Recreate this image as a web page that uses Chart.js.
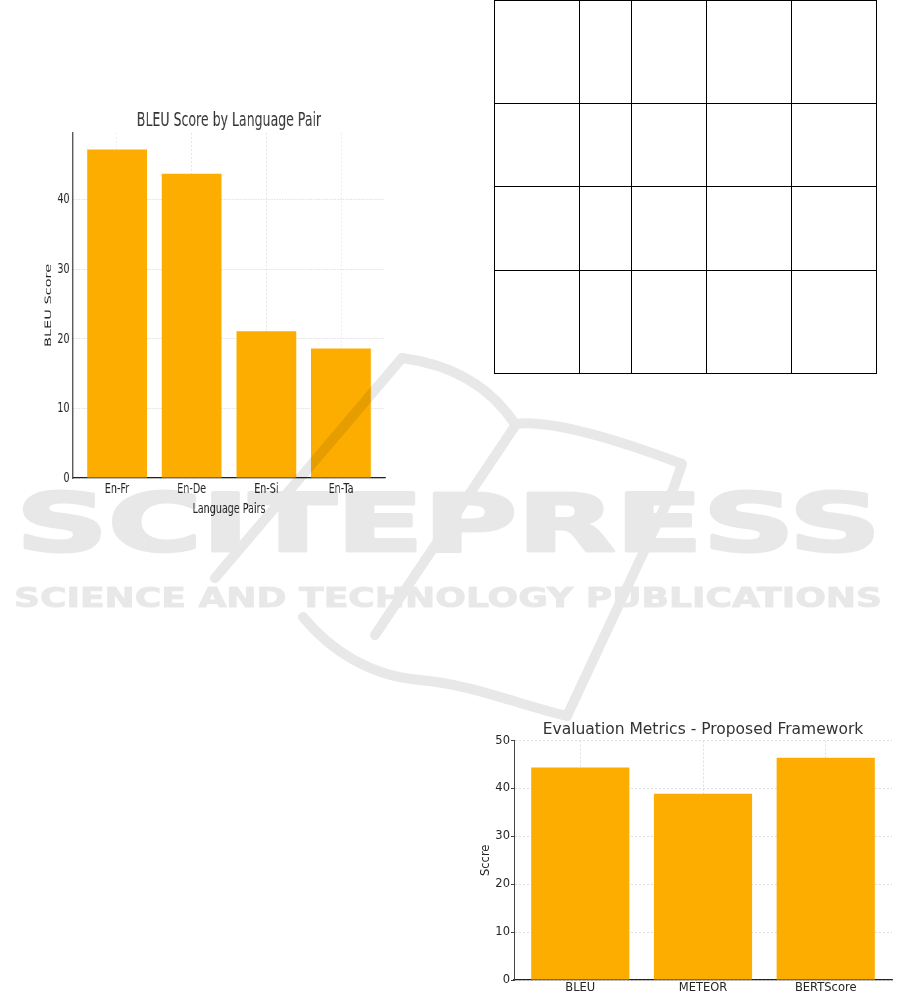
<!DOCTYPE html>
<html>
<head>
<meta charset="utf-8">
<script src="https://cdn.jsdelivr.net/npm/chart.js@4.4.1/dist/chart.umd.min.js"></script>
<style>
    body { margin: 0; background: #fff; width: 901px; height: 1000px; overflow: hidden; position: relative; font-family: "DejaVu Sans", sans-serif; }
    #bleu-wrap { position: absolute; left: 30px; top: 100px; width: 553px; height: 425px; transform: scaleX(0.66); transform-origin: 0 0; }
    #metric-wrap { position: absolute; left: 470px; top: 712px; width: 431px; height: 288px; }
    #grid-table { position: absolute; left: 494px; top: 0; border-collapse: collapse; table-layout: fixed; }
    #grid-table td { border: 1px solid #000; padding: 0; }
    #watermark { position: absolute; left: 0; top: 0; pointer-events: none; }
</style>
</head>
<body>

<table id="grid-table">
    <colgroup><col style="width:85px"><col style="width:52px"><col style="width:75px"><col style="width:85px"><col style="width:85px"></colgroup>
    <tr style="height:103px"><td></td><td></td><td></td><td></td><td></td></tr>
    <tr style="height:83px"><td></td><td></td><td></td><td></td><td></td></tr>
    <tr style="height:84px"><td></td><td></td><td></td><td></td><td></td></tr>
    <tr style="height:103px"><td></td><td></td><td></td><td></td><td></td></tr>
</table>

<div id="bleu-wrap"><canvas id="bleu-chart" width="553" height="425"></canvas></div>
<div id="metric-wrap"><canvas id="metric-chart" width="431" height="288"></canvas></div>

<svg id="watermark" width="901" height="1000">
    <g opacity="0.09" fill="none" stroke="#000" stroke-width="10" stroke-linecap="round" stroke-linejoin="round">
        <path d="M 402 358 L 215 578"/>
        <path d="M 402 358 Q 478 368 515 424 Q 560 418 682 464 L 674 487"/>
        <path d="M 674 487 L 567 716"/>
        <path d="M 303 617 C 330 650 370 676 420 680 S 520 705 567 716"/>
        <path d="M 515 426 L 375 635"/>
        <g fill="#000" stroke="#000">
            <text x="16" y="551" font-family="DejaVu Sans" font-weight="bold" font-size="80" stroke-width="3" textLength="865" lengthAdjust="spacingAndGlyphs">SCITEPRESS</text>
            <text x="14" y="607" font-family="DejaVu Sans" font-weight="bold" font-size="27" stroke-width="1" textLength="868" lengthAdjust="spacingAndGlyphs">SCIENCE AND TECHNOLOGY PUBLICATIONS</text>
        </g>
    </g>
</svg>

<script>
// BLEU by language pair
const pairLabels = ['En-Fr', 'En-De', 'En-Si', 'En-Ta'];
const bleuScores = [47.2, 43.7, 21.1, 18.6];
const bleuTicks = [0, 10, 20, 30, 40];

// evaluation metrics
const metricLabels = ['BLEU', 'METEOR', 'BERTScore'];
const metricScores = [44.4, 38.9, 46.4];
const scoreTicks = [0, 10, 20, 30, 40, 50];

const barColor = '#FDAD00';
const textColor = '#262626';

function fixedTicks(values) {
    return scale => { scale.ticks = values.map(v => ({ value: v })); };
}

function fixedWidth(w) {
    return scale => { scale.width = w; };
}

function fixedHeight(h) {
    return scale => { scale.height = h; };
}

function barChart(id, labels, values, yTicks, opts) {
    const ctx = document.getElementById(id).getContext('2d');
    const f = opts.font;
    // matplotlib-like x limits: bars 0.8 wide plus 5% margin
    const span = labels.length - 0.2;
    return new Chart(ctx, {
        type: 'bar',
        data: {
            datasets: [{
                data: values.map((v, i) => ({ x: i, y: v })),
                backgroundColor: barColor,
                borderWidth: 0,
                categoryPercentage: 1,
                barPercentage: 0.8
            }]
        },
        options: {
            responsive: false,
            animation: false,
            layout: { padding: { left: 0, right: opts.padRight, top: 0, bottom: 0 } },
            plugins: {
                legend: { display: false },
                tooltip: { enabled: false },
                title: {
                    display: true,
                    text: opts.title,
                    fullSize: false,
                    color: '#333',
                    font: { family: f, size: opts.titleSize, weight: 'normal', lineHeight: 1.2 },
                    padding: opts.titlePad
                }
            },
            scales: {
                x: {
                    type: 'linear',
                    offset: false,
                    min: -0.4 - 0.05 * span,
                    max: labels.length - 0.6 + 0.05 * span,
                    afterBuildTicks: fixedTicks(labels.map((l, i) => i)),
                    afterFit: fixedHeight(opts.xHeight),
                    ticks: {
                        callback: v => labels[v] ?? '',
                        color: textColor,
                        padding: opts.xTickPad,
                        maxRotation: 0,
                        autoSkip: false,
                        font: { family: f, size: opts.tickSize }
                    },
                    grid: { offset: false, color: '#d6d6d6', lineWidth: 0.8, drawTicks: false },
                    border: { color: '#222', width: 1.2, dash: [2, 2] },
                    title: {
                        display: !!opts.xTitle,
                        text: opts.xTitle,
                        color: textColor,
                        font: { family: f, size: opts.tickSize, lineHeight: 1.2 },
                        padding: { top: 0, bottom: 7 }
                    }
                },
                y: {
                    min: 0,
                    max: opts.yMax,
                    afterBuildTicks: fixedTicks(yTicks),
                    afterFit: fixedWidth(opts.yWidth),
                    ticks: {
                        color: textColor,
                        padding: opts.yTickPad,
                        font: { family: f, size: opts.tickSize }
                    },
                    grid: {
                        color: '#d6d6d6', lineWidth: 0.8,
                        drawTicks: opts.yTickLen > 0, tickLength: opts.yTickLen,
                        tickColor: '#444', tickWidth: 1
                    },
                    border: { color: '#444', width: opts.yBorder, dash: [2, 2] },
                    title: {
                        display: true,
                        text: opts.yTitle,
                        color: textColor,
                        font: { family: f, size: opts.yTitleSize, lineHeight: 1.2 },
                        padding: { top: opts.yTitlePad, bottom: 0 }
                    }
                }
            }
        }
    });
}

barChart('bleu-chart', pairLabels, bleuScores, bleuTicks, {
    font: 'DejaVu Sans',
    title: 'BLEU Score by Language Pair',
    titleSize: 19,
    titlePad: { top: 10, bottom: 0 },
    tickSize: 14.5,
    xTitle: 'Language Pairs',
    yTitle: 'BLEU Score',
    yTitleSize: 14.5,
    yTitlePad: 20,
    yMax: 49.6,
    yWidth: 65,
    xHeight: 47,
    padRight: 15,
    xTickPad: 3,
    yTickPad: 5,
    yTickLen: 0,
    yBorder: 1.6
});

barChart('metric-chart', metricLabels, metricScores, scoreTicks, {
    font: 'DejaVu Sans',
    title: 'Evaluation Metrics - Proposed Framework',
    titleSize: 15.5,
    titlePad: { top: 9, bottom: 1 },
    tickSize: 11.5,
    xTitle: '',
    yTitle: 'Sccre',
    yTitleSize: 11.5,
    yTitlePad: 9,
    yMax: 50,
    yWidth: 44,
    xHeight: 20,
    padRight: 9,
    xTickPad: 1,
    yTickPad: 1,
    yTickLen: 3,
    yBorder: 1
});
</script>
</body>
</html>
